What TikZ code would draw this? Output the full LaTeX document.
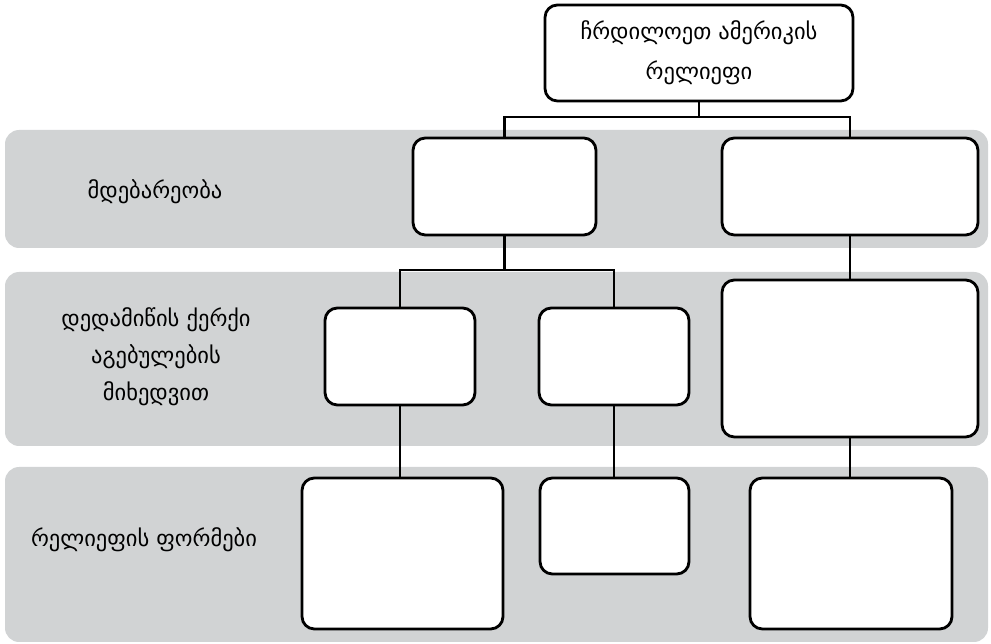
\documentclass[tikz,border=0pt]{standalone}
\usepackage{fontspec}
\setmainfont{DejaVu Sans}
\definecolor{bandgray}{RGB}{209,211,212}

\tikzset{
  band/.style={fill=bandgray, rounded corners=8pt},
  box/.style={draw, line width=1.6pt, fill=white, rounded corners=7pt},
  link/.style={line width=1.3pt},
  bandtext/.style={align=center, font=\fontsize{12.8}{21}\selectfont}
}

\begin{document}
\begin{tikzpicture}[x=0.02cm, y=-0.02cm]
  \useasboundingbox (0,0) rectangle (991,644);

  % gray bands
  \fill[band] (5,130) rectangle (988,248);
  \fill[band] (5,272) rectangle (988,446);
  \fill[band] (5,467) rectangle (988,642);

  \node[bandtext] (place) at (155,192) {მდებარეობა};
  \node[bandtext] (crust) at (156,357) {დედამიწის ქერქი\\აგებულების\\მიხედვით};
  \node[bandtext] (forms) at (144,540) {რელიეფის ფორმები};

  % boxes
  \node[box, align=center, minimum width=6.16cm, minimum height=1.92cm,
        font=\fontsize{12.8}{23}\selectfont] (top) at (699,53)
        {ჩრდილოეთ ამერიკის\\რელიეფი};
  \node[box, minimum width=3.66cm, minimum height=1.94cm] (locL) at (504.5,186.5) {};
  \node[box, minimum width=5.12cm, minimum height=1.94cm] (locR) at (850,186.5) {};

  \node[box, minimum width=3cm, minimum height=1.94cm] (crustA) at (400,356.5) {};
  \node[box, minimum width=3cm, minimum height=1.94cm] (crustB) at (614,356.5) {};
  \node[box, minimum width=5.12cm, minimum height=3.14cm] (crustC) at (850,358.5) {};

  \node[box, minimum width=4.02cm, minimum height=3.02cm] (formA) at (402.5,553.5) {};
  \node[box, minimum width=2.98cm, minimum height=1.92cm] (formB) at (614.5,526) {};
  \node[box, minimum width=4.04cm, minimum height=3.02cm] (formC) at (851,553.5) {};

  % connectors
  \coordinate (j1) at (699,117);
  \coordinate (j2) at (504.5,270);

  \draw[link] (top.south) -- (j1) -| (locL.north);
  \draw[link] (j1) -| (locR.north);
  \draw[link] (locL.south) -- (j2) -| (crustA.north);
  \draw[link] (j2) -| (crustB.north);
  \draw[link] (locR.south) -- (crustC.north);
  \draw[link] (crustA.south) -- (crustA.south |- formA.north);
  \draw[link] (crustB.south) -- (crustB.south |- formB.north);
  \draw[link] (crustC.south) -- (crustC.south |- formC.north);
\end{tikzpicture}
\end{document}
